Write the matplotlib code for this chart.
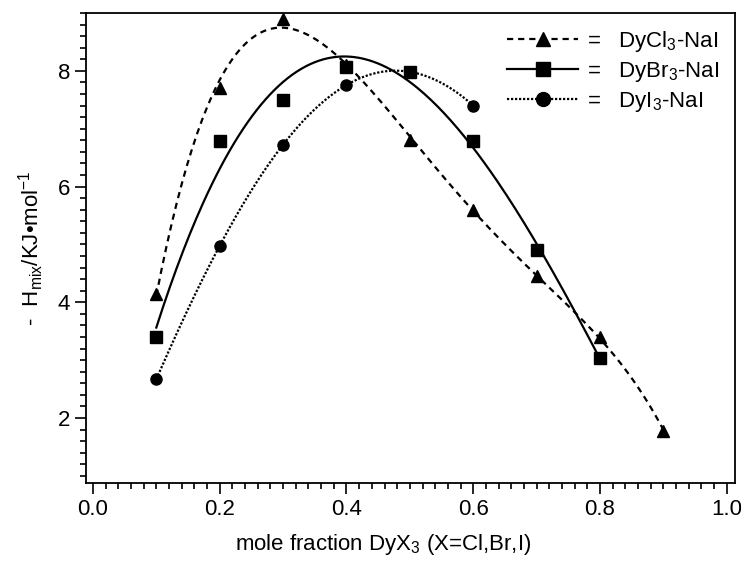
import numpy as np
import matplotlib
matplotlib.use('Agg')
from matplotlib import pyplot as plt
from matplotlib.ticker import MultipleLocator

plt.rcParams['font.family'] = ['Liberation Sans', 'DejaVu Sans']
plt.rcParams['mathtext.fontset'] = 'custom'
plt.rcParams['mathtext.rm'] = 'Liberation Sans'
plt.rcParams['mathtext.it'] = 'Liberation Sans'

# data
x_cl = [0.1, 0.2, 0.3, 0.4, 0.5, 0.6, 0.7, 0.8, 0.9]
h_cl = [4.15, 7.71, 8.89, 8.10, 6.81, 5.59, 4.45, 3.40, 1.78]

x_br = [0.1, 0.2, 0.3, 0.4, 0.5, 0.6, 0.7, 0.8]
h_br = [3.40, 6.78, 7.49, 8.06, 7.98, 6.78, 4.91, 3.03]

x_i = [0.1, 0.2, 0.3, 0.4, 0.5, 0.6]
h_i = [2.67, 4.98, 6.72, 7.76, 7.98, 7.40]

series = [
    ('DyCl$_3$-NaI', x_cl, h_cl, '^', (0, (2.8, 2.2)), 4),
    ('DyI$_3$-NaI', x_i, h_i, 'o', (0, (1, 0.8)), 4),
    ('DyBr$_3$-NaI', x_br, h_br, 's', '-', 3),
]


def fit_curve(x, y, deg):
    coef = np.polyfit(x, y, deg)
    xs = np.linspace(min(x), max(x), 200)
    return xs, np.polyval(coef, xs)


fig = plt.figure(figsize=(7.41, 5.64), dpi=100)
ax = fig.add_axes([0.116, 0.144, 0.876, 0.833])

handles = {}
for label, x, y, marker, ls, deg in series:
    xs, ys = fit_curve(x, y, deg)
    ax.plot(xs, ys, color='black', linestyle=ls, linewidth=1.6)
    ax.plot(x, y, linestyle='none', marker=marker, color='black', markersize=8)
    handles[label] = ax.plot([], [], color='black', linestyle=ls, linewidth=1.6,
                             marker=marker, markersize=10)[0]

order = ['DyCl$_3$-NaI', 'DyBr$_3$-NaI', 'DyI$_3$-NaI']
ax.legend([handles[k] for k in order], ['=   ' + k for k in order],
          loc='upper right', frameon=False, fontsize=16, handlelength=3.2,
          handletextpad=0.4, labelspacing=0.28, borderaxespad=0.3,
          bbox_to_anchor=(1.0, 1.0))

ax.set_xlim(-0.011, 1.013)
ax.set_ylim(0.88, 9.0)
ax.xaxis.set_minor_locator(MultipleLocator(0.02))
ax.yaxis.set_minor_locator(MultipleLocator(0.2))
ax.set_xticks([0.0, 0.2, 0.4, 0.6, 0.8, 1.0])
ax.set_xticklabels(['0.0', '0.2', '0.4', '0.6', '0.8', '1.0'])
ax.set_yticks([2, 4, 6, 8])
ax.tick_params(which='both', direction='out', top=False, right=False,
               labelsize=16, width=1.2)
ax.tick_params(which='major', length=8)
ax.tick_params(which='minor', length=4)
for spine in ax.spines.values():
    spine.set_linewidth(1.3)

ax.set_xlabel('mole fraction DyX$_3$ (X=Cl,Br,I)', fontsize=16, labelpad=8)
ax.xaxis.set_label_coords(0.458, -0.105)
ax.set_ylabel('-  H$_{\\mathregular{mix}}$/KJ\u2022mol$^{\\mathregular{-1}}$',
              fontsize=16, labelpad=8)

fig.savefig('out.png', dpi=100)
